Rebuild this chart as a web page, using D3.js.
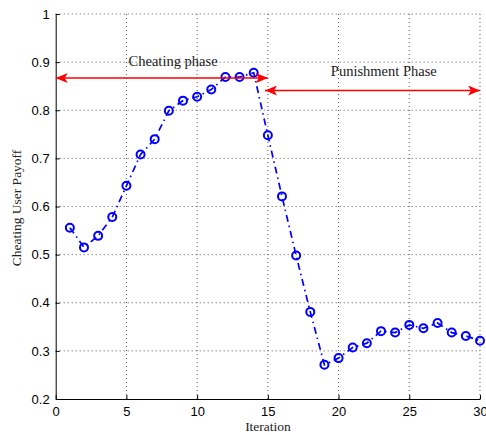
<!DOCTYPE html>
<html>
<head>
<meta charset="utf-8">
<script src="https://cdn.jsdelivr.net/npm/d3@7"></script>
<style>
  body { margin: 0; background: #fff; }
  .tick text { font-family: "Liberation Sans", Arial, sans-serif; font-size: 13px; fill: #000; }
  .legend { font-family: "Liberation Serif", "Times New Roman", serif; font-size: 13.5px; fill: #222; }
  .phase { font-size: 14.5px; }
</style>
</head>
<body>
<script>
//data
var iterations = d3.range(1, 31);
var payoff = [0.556, 0.515, 0.539, 0.578, 0.643, 0.708, 0.740, 0.799, 0.820, 0.828,
              0.843, 0.869, 0.869, 0.878, 0.748, 0.621, 0.498, 0.381, 0.271, 0.285,
              0.307, 0.316, 0.341, 0.338, 0.354, 0.347, 0.358, 0.338, 0.331, 0.321];
var xTicks = [0, 5, 10, 15, 20, 25, 30];
var yTicks = [0.2, 0.3, 0.4, 0.5, 0.6, 0.7, 0.8, 0.9, 1];
var cheatPhase = {label: "Cheating phase", from: 0, to: 15, y: 0.867};
var punishPhase = {label: "Punishment Phase", from: 14.8, to: 30, y: 0.841};

var margin = {top: 14, bottom: 36, right: 6, left: 55.7};
var width = 486 - margin.left - margin.right;
var height = 435 - margin.top - margin.bottom;

var xScale = d3.scaleLinear().domain([0, 30]).range([0, width]);
var yScale = d3.scaleLinear().domain([0.2, 1]).range([height, 0]);

var svg = d3.select("body").append("svg")
    .attr("width", 486)
    .attr("height", 435);

var defs = svg.append("defs");
defs.append("marker")
    .attr("id", "head")
    .attr("viewBox", "0 0 12 10")
    .attr("refX", 12).attr("refY", 5)
    .attr("markerWidth", 12).attr("markerHeight", 10)
    .attr("markerUnits", "userSpaceOnUse")
    .attr("orient", "auto-start-reverse")
    .append("path")
    .attr("d", "M0,0 L12,5 L0,10 L3,5 Z")
    .attr("fill", "#f00");

var g = svg.append("g")
    .attr("transform", "translate(" + margin.left + "," + margin.top + ")");

//dotted grid
g.append("g").selectAll("line")
    .data(xTicks.slice(1))
    .enter().append("line")
    .attr("x1", function(d){ return xScale(d); })
    .attr("x2", function(d){ return xScale(d); })
    .attr("y1", 0).attr("y2", height)
    .attr("stroke", "#555").attr("stroke-width", 1)
    .attr("stroke-dasharray", "1,3");

g.append("g").selectAll("line")
    .data(yTicks.slice(1))
    .enter().append("line")
    .attr("y1", function(d){ return yScale(d); })
    .attr("y2", function(d){ return yScale(d); })
    .attr("x1", 0).attr("x2", width)
    .attr("stroke", "#555").attr("stroke-width", 1)
    .attr("stroke-dasharray", "1,3");

//axes
var xAxis = d3.axisBottom(xScale).tickValues(xTicks).tickSizeInner(-4).tickSizeOuter(0).tickPadding(8);
var yAxis = d3.axisLeft(yScale).tickValues(yTicks).tickSizeInner(-4).tickSizeOuter(0).tickPadding(6)
    .tickFormat(function(d){ return d === 1 ? "1" : d3.format(".1f")(d); });

g.append("g")
    .attr("transform", "translate(0," + height + ")")
    .call(xAxis)
    .call(function(s){ s.select(".domain").attr("stroke", "#000"); });

g.append("g")
    .call(yAxis)
    .call(function(s){ s.select(".domain").attr("stroke", "#000"); });

//payoff line
var line = d3.line()
    .x(function(d, i){ return xScale(iterations[i]); })
    .y(function(d){ return yScale(d); });

g.append("path")
    .attr("d", line(payoff))
    .attr("fill", "none")
    .attr("stroke", "#00f")
    .attr("stroke-width", 1.7)
    .attr("stroke-dasharray", "7,4,1.5,4");

g.append("g").selectAll("circle")
    .data(payoff)
    .enter().append("circle")
    .attr("cx", function(d, i){ return xScale(iterations[i]); })
    .attr("cy", function(d){ return yScale(d); })
    .attr("r", 4)
    .attr("fill", "none")
    .attr("stroke", "#00f")
    .attr("stroke-width", 2);

//phase arrows
[cheatPhase, punishPhase].forEach(function(p){
    g.append("line")
        .attr("x1", xScale(p.from)).attr("x2", xScale(p.to))
        .attr("y1", yScale(p.y)).attr("y2", yScale(p.y))
        .attr("stroke", "#f00")
        .attr("stroke-width", 1.6)
        .attr("marker-start", "url(#head)")
        .attr("marker-end", "url(#head)");
});

g.append("text")
    .attr("class", "legend phase")
    .attr("text-anchor", "middle")
    .attr("x", xScale(8.3))
    .attr("y", yScale(0.9) + 4)
    .text(cheatPhase.label);

g.append("text")
    .attr("class", "legend phase")
    .attr("text-anchor", "middle")
    .attr("x", xScale(23.2))
    .attr("y", yScale(0.871))
    .text(punishPhase.label);

//axis labels
svg.append("text")
    .attr("class", "legend")
    .attr("text-anchor", "middle")
    .attr("x", 268).attr("y", 431)
    .text("Iteration");

svg.append("text")
    .attr("class", "legend")
    .attr("text-anchor", "middle")
    .attr("transform", "translate(21,208) rotate(-90)")
    .text("Cheating User Payoff");
</script>
</body>
</html>
